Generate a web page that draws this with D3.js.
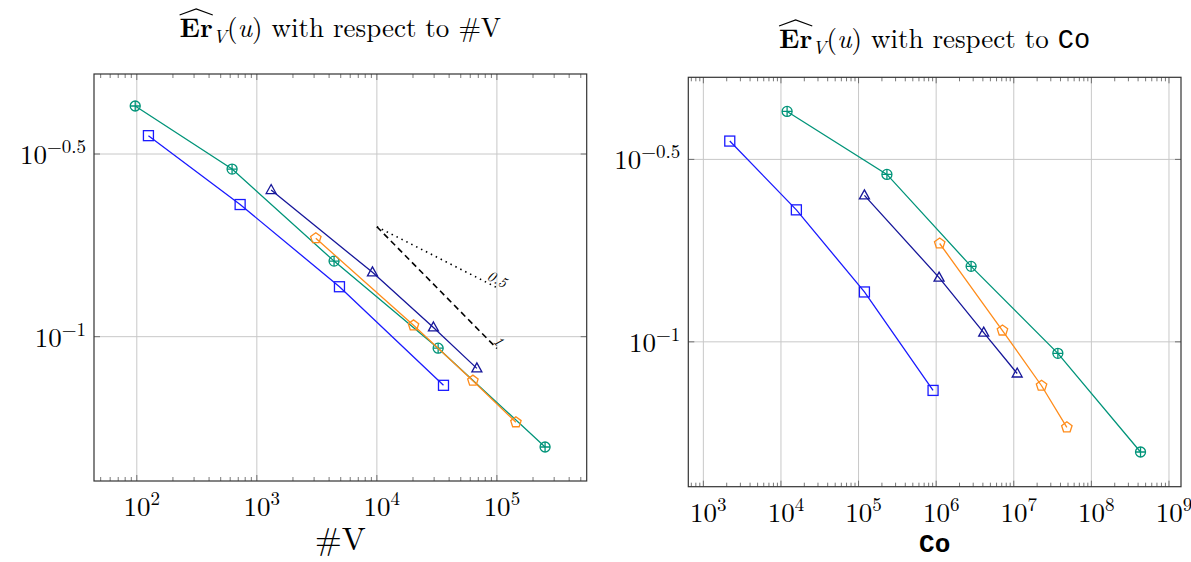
<!DOCTYPE html>
<html>
<head>
<meta charset="utf-8">
<script src="https://cdn.jsdelivr.net/npm/d3@7"></script>
<style>
  body { margin: 0; background: #fff; }
  svg { display: block; }
</style>
</head>
<body>
<div id="chart"></div>
<script>
// error values (same for both panels)
const errSquare = [0.355, 0.230, 0.137, 0.0736];
const errTri    = [0.252, 0.150, 0.106, 0.0819];
const errPent   = [0.186, 0.1074, 0.0758, 0.0583];
const errOplus  = [0.428, 0.2876, 0.161, 0.093, 0.0499];

// left panel: #V
const vSquare = [125, 726, 4880, 35900];
const vTri    = [1316, 9190, 29600, 68100];
const vPent   = [3100, 20200, 63100, 144000];
const vOplus  = [97, 622, 4400, 32400, 252000];

// right panel: Co
const coSquare = [2190, 15800, 119000, 912000];
const coTri    = [119000, 1090000, 4100000, 11070000];
const coPent   = [1110000, 7150000, 22800000, 48300000];
const coOplus  = [12000, 232000, 2820000, 37000000, 430000000];

// slope reference lines (left panel), start point and slopes
const slopeStart = [1e4, 0.2];
const slopeEndX = 1e5;
const slopes = [0.5, 1];
const slopeLabels = ["0.5", "1"];

const yTickVals = [Math.pow(10, -1), Math.pow(10, -0.5)];
const yTickExps = ["\u22121", "\u22120.5"];

const serif = "'Latin Modern Roman', 'Liberation Serif', 'DejaVu Serif', serif";
const mono = "'Liberation Mono', 'DejaVu Sans Mono', monospace";

const colors = { square: "#1a1aff", tri: "#16169a", pent: "#ff8c1a", oplus: "#009479" };

const svg = d3.select("#chart").append("svg")
    .attr("width", 1191)
    .attr("height", 562);

function drawPanel(opts) {
    const x = d3.scaleLog().domain(opts.xDomain).range([opts.left, opts.right]);
    const y = d3.scaleLog().domain(opts.yDomain).range([opts.bottom, opts.top]);
    const g = svg.append("g");

    // grid lines
    const lx = Math.ceil(Math.log10(opts.xDomain[0]) - 1e-9);
    const majors = d3.range(lx, Math.floor(Math.log10(opts.xDomain[1])) + 1).map(k => Math.pow(10, k));
    g.selectAll(".gx").data(majors).enter().append("line")
        .attr("x1", d => x(d)).attr("x2", d => x(d))
        .attr("y1", opts.top).attr("y2", opts.bottom)
        .attr("stroke", "#c8c8c8").attr("stroke-width", 1);
    g.selectAll(".gy").data(yTickVals).enter().append("line")
        .attr("x1", opts.left).attr("x2", opts.right)
        .attr("y1", d => y(d)).attr("y2", d => y(d))
        .attr("stroke", "#c8c8c8").attr("stroke-width", 1);

    // minor ticks on x (inside, top and bottom)
    const minors = [];
    for (let k = Math.floor(Math.log10(opts.xDomain[0])); k <= Math.ceil(Math.log10(opts.xDomain[1])); k++) {
        for (let m = 2; m <= 9; m++) {
            const v = m * Math.pow(10, k);
            if (v > opts.xDomain[0] && v < opts.xDomain[1]) minors.push(v);
        }
    }
    [opts.bottom, opts.top].forEach((yy, i) => {
        const dir = i === 0 ? -1 : 1;
        g.selectAll(null).data(minors).enter().append("line")
            .attr("x1", d => x(d)).attr("x2", d => x(d))
            .attr("y1", yy).attr("y2", yy + dir * 4)
            .attr("stroke", "#555").attr("stroke-width", 0.8);
        g.selectAll(null).data(majors).enter().append("line")
            .attr("x1", d => x(d)).attr("x2", d => x(d))
            .attr("y1", yy).attr("y2", yy + dir * 6)
            .attr("stroke", "#555").attr("stroke-width", 0.8);
    });
    [opts.left, opts.right].forEach((xx, i) => {
        const dir = i === 0 ? 1 : -1;
        g.selectAll(null).data(yTickVals).enter().append("line")
            .attr("x1", xx).attr("x2", xx + dir * 6)
            .attr("y1", d => y(d)).attr("y2", d => y(d))
            .attr("stroke", "#555").attr("stroke-width", 0.8);
    });

    // frame
    g.append("rect")
        .attr("x", opts.left).attr("y", opts.top)
        .attr("width", opts.right - opts.left).attr("height", opts.bottom - opts.top)
        .attr("fill", "none").attr("stroke", "#333").attr("stroke-width", 1.2);

    // x tick labels
    const xl = g.selectAll(".xl").data(majors).enter().append("text")
        .attr("x", d => x(d) + 5).attr("y", opts.bottom + 35)
        .attr("text-anchor", "middle")
        .attr("font-family", serif).attr("font-size", 27);
    xl.append("tspan").text("10");
    xl.append("tspan").attr("dy", -11).attr("font-size", 19).text(d => Math.round(Math.log10(d)));

    // y tick labels
    const yl = g.selectAll(".yl").data(yTickVals).enter().append("text")
        .attr("x", opts.left - 8).attr("y", d => y(d) + 10)
        .attr("text-anchor", "end")
        .attr("font-family", serif).attr("font-size", 27);
    yl.append("tspan").text("10");
    yl.append("tspan").attr("dy", -11).attr("font-size", 19).text((d, i) => yTickExps[i]);

    // series
    const series = [
        { xs: opts.xSquare, ys: errSquare, c: colors.square, m: "square" },
        { xs: opts.xOplus, ys: errOplus, c: colors.oplus, m: "oplus" },
        { xs: opts.xPent, ys: errPent, c: colors.pent, m: "pent" },
        { xs: opts.xTri, ys: errTri, c: colors.tri, m: "tri" }
    ];
    const line = d3.line().x(d => x(d[0])).y(d => y(d[1]));
    series.forEach(s => {
        const pts = s.xs.map((v, i) => [v, s.ys[i]]);
        g.append("path").datum(pts)
            .attr("d", line)
            .attr("fill", "none").attr("stroke", s.c).attr("stroke-width", 1.3);
        const mk = g.selectAll(null).data(pts).enter().append("g")
            .attr("transform", d => `translate(${x(d[0])},${y(d[1])})`)
            .attr("fill", "none").attr("stroke", s.c).attr("stroke-width", 1.3);
        if (s.m === "square") {
            mk.append("rect").attr("x", -5).attr("y", -5).attr("width", 10).attr("height", 10);
        } else if (s.m === "oplus") {
            mk.append("circle").attr("r", 5);
            mk.append("path").attr("d", "M-5,0H5M0,-5V5");
        } else if (s.m === "tri") {
            mk.append("path").attr("d", "M0,-5.5L5,3.5L-5,3.5Z");
        } else {
            const pent = d3.range(5).map(i => {
                const a = -Math.PI / 2 + i * 2 * Math.PI / 5;
                return [5.5 * Math.cos(a), 5.5 * Math.sin(a)];
            });
            mk.append("path").attr("d", "M" + pent.join("L") + "Z");
        }
    });

    // axis label
    g.append("text")
        .attr("x", (opts.left + opts.right) / 2).attr("y", opts.labelY)
        .attr("text-anchor", "middle")
        .attr("font-family", opts.labelFont).attr("font-size", opts.labelSize)
        .attr("font-weight", opts.labelWeight)
        .text(opts.label);

    // title
    const title = g.append("text")
        .attr("y", opts.titleY)
        .attr("font-family", serif).attr("font-size", 27);
    const er = title.append("tspan").attr("font-weight", "bold").text("Er");
    title.append("tspan").attr("dy", 6).attr("font-size", 19).attr("font-style", "italic").text("V");
    title.append("tspan").attr("dy", -6).text("(");
    title.append("tspan").attr("font-style", "italic").text("u");
    title.append("tspan").text(") with respect to ");
    title.append("tspan").attr("font-family", opts.titleTailFont).text(opts.titleTail);
    const tw = title.node().getComputedTextLength();
    const tx = (opts.left + opts.right) / 2 - tw / 2;
    title.attr("x", tx);
    const erW = er.node().getComputedTextLength();
    const hy = opts.titleY - 22;
    g.append("path")
        .attr("d", `M${tx},${hy} L${tx + erW / 2},${hy - 6} L${tx + erW},${hy}`)
        .attr("fill", "none").attr("stroke", "#000").attr("stroke-width", 1.2);

    return { x, y, g };
}

const leftP = drawPanel({
    left: 94, right: 586.7, top: 74, bottom: 481,
    xDomain: [44, 5.6e5], yDomain: [Math.pow(10, -1.395), Math.pow(10, -0.281)],
    xSquare: vSquare, xTri: vTri, xPent: vPent, xOplus: vOplus,
    label: "#V", labelFont: serif, labelSize: 32, labelWeight: "normal", labelY: 550,
    titleY: 37, titleTail: "#V", titleTailFont: serif
});

drawPanel({
    left: 688.3, right: 1181, top: 77.3, bottom: 486.7,
    xDomain: [Math.pow(10, 2.806), Math.pow(10, 9.155)], yDomain: [Math.pow(10, -1.397), Math.pow(10, -0.275)],
    xSquare: coSquare, xTri: coTri, xPent: coPent, xOplus: coOplus,
    label: "Co", labelFont: mono, labelSize: 26, labelWeight: "bold", labelY: 552,
    titleY: 48, titleTail: "Co", titleTailFont: mono
});

// slope triangle lines on the left panel (#V ~ h^-3)
slopes.forEach((s, i) => {
    const x0 = leftP.x(slopeStart[0]), y0 = leftP.y(slopeStart[1]);
    const yEnd = slopeStart[1] * Math.pow(slopeEndX / slopeStart[0], -s / 3);
    const x1 = leftP.x(slopeEndX), y1 = leftP.y(yEnd);
    leftP.g.append("line")
        .attr("x1", x0).attr("y1", y0).attr("x2", x1).attr("y2", y1)
        .attr("stroke", "#000").attr("stroke-width", 1.6)
        .attr("stroke-dasharray", s === 0.5 ? "1.5,4" : "6,4");
    const ang = Math.atan2(y1 - y0, x1 - x0) * 180 / Math.PI;
    leftP.g.append("text")
        .attr("transform", `translate(${x1 - 2},${y1 - 4}) rotate(${ang})`)
        .attr("text-anchor", "middle")
        .attr("font-family", serif).attr("font-style", "italic").attr("font-size", 15)
        .text(slopeLabels[i]);
});
</script>
</body>
</html>
